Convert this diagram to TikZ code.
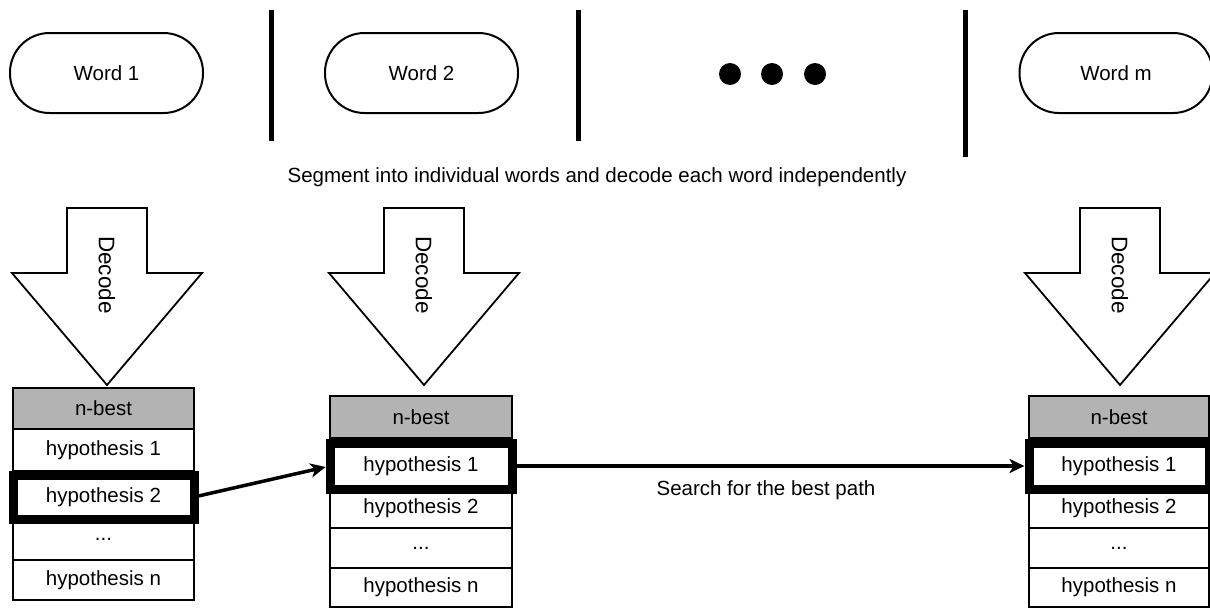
\documentclass[tikz,border=0pt]{standalone}
\usepackage{fontspec}
\setmainfont{Liberation Sans}
\usetikzlibrary{arrows.meta}
\definecolor{hdrgray}{RGB}{179,179,179}
\begin{document}
\begin{tikzpicture}[x=1pt,y=-1pt,
  every node/.style={font=\fontsize{20.5}{24}\selectfont, inner sep=0pt, outer sep=0pt},
  word/.style={draw, line width=2pt, rounded corners=39.5pt, minimum width=193pt, minimum height=80pt},
  bar/.style={line width=5pt},
  darrow/.style={draw, line width=1.8pt, fill=white, line join=miter},
  dec/.style={rotate=-90, font=\fontsize{22.5}{26}\selectfont},
  cell/.style={draw, line width=1.8pt},
  hdr/.style={cell, fill=hdrgray},
  sel/.style={draw, line width=9pt},
  conn/.style={line width=3.5pt, -{Stealth[length=15pt, width=14pt, inset=4pt]}, shorten >=4.5pt}
]
\useasboundingbox (0,0) rectangle (1210,608);
\clip (0,0) rectangle (1210,608);

% top row
\node[word] (w1) at (106.5,73) {Word 1};
\node[word] (w2) at (421.5,73) {Word 2};
\node[word] (wm) at (1116,73) {Word m};
\draw[bar] (271.5,10) -- (271.5,141);
\draw[bar] (578,10) -- (578,141);
\draw[bar] (965,10) -- (965,157);
\fill (730,74) circle (11);
\fill (772,74) circle (11);
\fill (815,74) circle (11);

\node (seg) at (597,177) {Segment into individual words and decode each word independently};

% decode arrows
\foreach \c/\n in {107/1,424/2,1120/3}{
  \draw[darrow] (\c-40,208) -- (\c+40,208) -- (\c+40,273) -- (\c+95,273) -- (\c,385) -- (\c-95,273) -- (\c-40,273) -- cycle;
  \node[dec] (dec\n) at (\c,275) {Decode};
}

% table 1
\begin{scope}[every node/.append style={minimum width=181pt}]
\node[hdr, minimum height=41pt] (t1h) at (103.5,408.5) {n-best};
\node[cell, minimum height=42pt] (t1a) at (103.5,450) {hypothesis 1};
\node[cell, minimum height=44pt] (t1b) at (103.5,497) {hypothesis 2};
\node[cell, minimum height=41pt] (t1c) at (103.5,539.5) {...};
\node[cell, minimum height=40pt] (t1d) at (103.5,580) {hypothesis n};
\node[sel, minimum height=44pt] (t1s) at (103.5,497) {};
\end{scope}

% table 2
\begin{scope}[every node/.append style={minimum width=182pt}]
\node[hdr, minimum height=42pt] (t2h) at (421,417) {n-best};
\node[cell, minimum height=39pt] (t2b) at (421,508.5) {hypothesis 2};
\node[cell, minimum height=40pt] (t2c) at (421,548) {...};
\node[cell, minimum height=39pt] (t2d) at (421,587.5) {hypothesis n};
\node[sel, minimum height=46pt] (t2a) at (421,466) {hypothesis 1};
\end{scope}

% table 3
\begin{scope}[every node/.append style={minimum width=180pt}]
\node[hdr, minimum height=42pt] (t3h) at (1119,417) {n-best};
\node[cell, minimum height=39pt] (t3b) at (1119,508.5) {hypothesis 2};
\node[cell, minimum height=40pt] (t3c) at (1119,548) {...};
\node[cell, minimum height=39pt] (t3d) at (1119,587.5) {hypothesis n};
\node[sel, minimum height=46pt] (t3a) at (1119,466) {hypothesis 1};
\end{scope}

% connectors
\draw[conn] (t1s.east) -- (t2a.west);
\draw[conn] (t2a.east) -- (t3a.west);
\node (lbl) at (766,490) {Search for the best path};
\end{tikzpicture}
\end{document}
